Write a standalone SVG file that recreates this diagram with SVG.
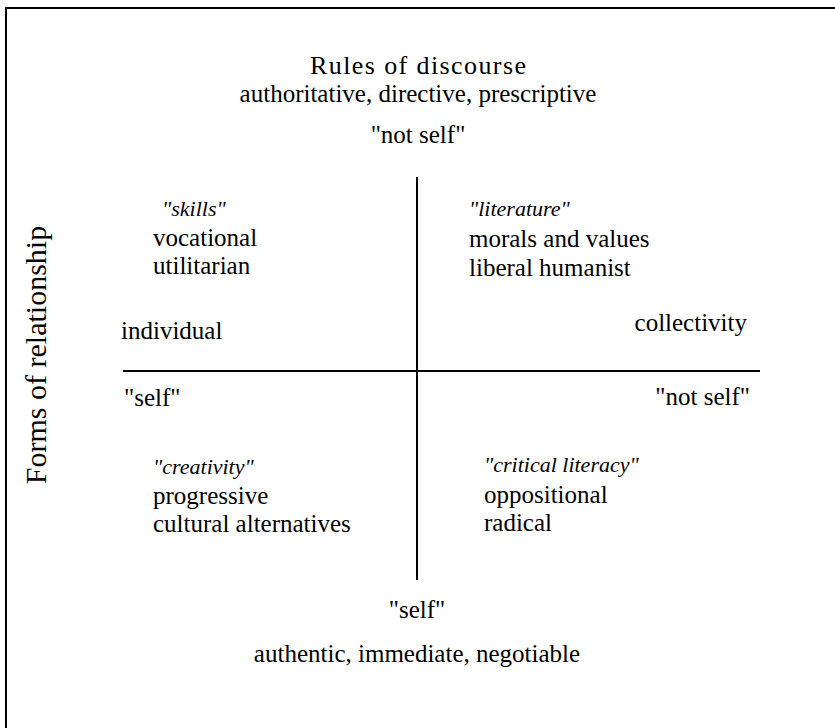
<svg xmlns="http://www.w3.org/2000/svg" width="835" height="728" viewBox="0 0 835 728">
<style>
text{font-family:"Liberation Serif","DejaVu Serif",serif;font-size:25px;fill:#000}
.it{font-style:italic;font-size:22px}
.ttl{font-size:26px}
.ax{font-size:30px}
.mid{text-anchor:middle}
.end{text-anchor:end}
.ln{stroke:#000;stroke-width:2;fill:none}
</style>
<rect x="6" y="8" width="840" height="740" fill="#fff" stroke="#000" stroke-width="2"/>
<g id="connectors">
<line class="ln" x1="417" y1="177" x2="417" y2="580"/>
<line class="ln" x1="123" y1="371" x2="760" y2="371"/>
</g>
<g id="top">
<text class="ttl mid" x="418" y="74" textLength="216" lengthAdjust="spacing">Rules of discourse</text>
<text class="mid" x="418" y="102">authoritative, directive, prescriptive</text>
<text class="mid" x="418" y="143">"not self"</text>
</g>
<g id="axis-label">
<text class="ax mid" transform="translate(46,355) rotate(-90)">Forms of relationship</text>
</g>
<g id="skills">
<text class="it" x="162" y="216">"skills"</text>
<text x="153" y="246">vocational</text>
<text x="153" y="274">utilitarian</text>
</g>
<g id="literature">
<text class="it" x="469" y="216">"literature"</text>
<text x="469" y="247">morals and values</text>
<text x="469" y="276">liberal humanist</text>
</g>
<g id="creativity">
<text class="it" x="153" y="474">"creativity"</text>
<text x="153" y="504">progressive</text>
<text x="153" y="532">cultural alternatives</text>
</g>
<g id="critical">
<text class="it" x="484" y="472">"critical literacy"</text>
<text x="484" y="503">oppositional</text>
<text x="484" y="531">radical</text>
</g>
<g id="ends">
<text x="121" y="339">individual</text>
<text x="124" y="406">"self"</text>
<text class="end" x="747" y="331">collectivity</text>
<text class="end" x="750" y="405">"not self"</text>
<text class="mid" x="417" y="618">"self"</text>
<text class="mid" x="417" y="662">authentic, immediate, negotiable</text>
</g>
</svg>
